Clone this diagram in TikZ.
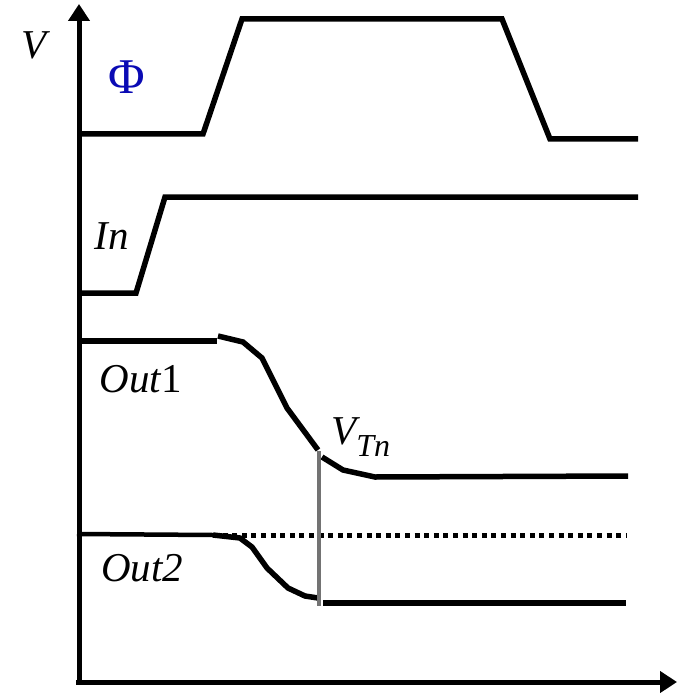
\documentclass[tikz,border=0pt]{standalone}
\usepackage{fontspec}
\setmainfont{Liberation Serif}
\usetikzlibrary{arrows.meta,calc}
\definecolor{phiblue}{RGB}{10,10,180}
\tikzset{
  sig/.style={line width=5.5pt, line join=miter, line cap=butt},
  axis/.style={line width=5pt, -{Triangle[width=21pt,length=17pt]}},
  lbl/.style={font=\fontsize{41}{48}\selectfont\itshape, inner sep=0pt},
  refline/.style={line width=4.5pt, black!55},
  dotline/.style={line width=5pt, dash pattern=on 5pt off 4.6pt},
}
\begin{document}
\begin{tikzpicture}[x=1pt,y=-1pt]
\useasboundingbox (0,0) rectangle (682,695);
% axes
\coordinate (o) at (79,682);
\coordinate (ytop) at (79,4);
\coordinate (xend) at (677,682);
\draw[axis] ($(o)+(0,2)$) -- (ytop);
\draw[axis] ($(o)+(-3,0)$) -- (xend);
\node[lbl] (v) at (34,45) {V};
% Phi
\node[inner sep=0pt, text=phiblue, font=\fontsize{50}{56}\selectfont] (phi) at (127,77) {Φ};
\coordinate (p0) at (77,134);
\coordinate (p1) at (203,134);
\coordinate (p2) at (242,19);
\coordinate (p3) at (502,19);
\coordinate (p4) at (550,139);
\coordinate (p5) at (638,139);
\draw[sig] (p0) -- (p1) -- (p2) -- (p3) -- (p4) -- (p5);
% In
\node[lbl] (in) at (112,236) {In};
\coordinate (i0) at (77,293);
\coordinate (i1) at (136,293);
\coordinate (i2) at (165,197);
\coordinate (i3) at (638,197);
\draw[sig] (i0) -- (i1) -- (i2) -- (i3);
% Out1
\node[lbl] (out1) at (141,379) {Out\textup{1}};
\coordinate (a0) at (77,341);
\coordinate (a1) at (217,341);
\coordinate (a2) at (218,336);
\coordinate (a3) at (243,342);
\coordinate (a4) at (262,358);
\coordinate (a5) at (287,408);
\coordinate (a6) at (318,450);
\coordinate (a7) at (322,457);
\coordinate (a8) at (343,470);
\coordinate (a9) at (375,477);
\coordinate (a10) at (628,476);
\draw[sig, line width=6.5pt] (a0) -- (a1);
\draw[sig] (a2) -- (a3) -- (a4) -- (a5) -- (a6);
\draw[sig] (a7) -- (a8) -- (a9) -- (a10);
\node[lbl, anchor=south west] (vtn) at (331,457) {V\textsubscript{\fontsize{32}{36}\selectfont Tn}};
% Out2
\node[lbl] (out2) at (142,568) {Out2};
\coordinate (b0) at (77,534);
\coordinate (b1) at (213,535);
\coordinate (b2) at (240,538);
\coordinate (b3) at (252,547);
\coordinate (b4) at (267,568);
\coordinate (b5) at (288,588);
\coordinate (b6) at (305,596);
\coordinate (b7) at (318,598);
\coordinate (b8) at (323,603);
\coordinate (b9) at (626,603);
\coordinate (d1) at (627,535);
\draw[sig, line width=4.5pt] (b0) -- (b1);
\draw[dotline] (b1) -- (d1);
\draw[sig] (b1) -- (b2) -- (b3) -- (b4) -- (b5) -- (b6) -- (b7);
\draw[sig] (b8) -- (b9);
% threshold marker
\coordinate (t0) at (319,451);
\coordinate (t1) at (319,606);
\draw[refline] (t0) -- (t1);
\end{tikzpicture}
\end{document}
